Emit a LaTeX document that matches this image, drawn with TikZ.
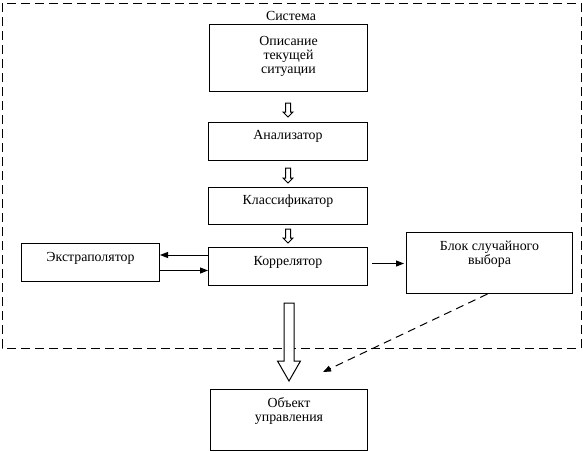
\documentclass[tikz,border=0pt]{standalone}
\usepackage{fontspec}
\setmainfont{Liberation Serif}
\usetikzlibrary{calc,arrows.meta}
\newcommand\pxu{0.75pt}
\newcommand\blockarr[7]{% from, to, gap top, gap bottom, shaft half, head half, head length (px)
  \draw[hollowarrow] let \p1=(#1.south), \p2=(#2.north) in
    (\x2-#5*\pxu,\y1-#3*\pxu) -- (\x2-#5*\pxu,\y2+#4*\pxu+#7*\pxu)
    -- (\x2-#6*\pxu,\y2+#4*\pxu+#7*\pxu) -- (\x2,\y2+#4*\pxu)
    -- (\x2+#6*\pxu,\y2+#4*\pxu+#7*\pxu) -- (\x2+#5*\pxu,\y2+#4*\pxu+#7*\pxu)
    -- (\x2+#5*\pxu,\y1-#3*\pxu) -- cycle;}
\begin{document}
\begin{tikzpicture}[x=0.75pt,y=-0.75pt,
  every node/.style={font=\fontsize{10.4pt}{10.5pt}\selectfont},
  blockbox/.style={draw,line width=0.75pt,anchor=north west,inner sep=0pt},
  lbl/.style={anchor=base,align=center,inner sep=0pt},
  mlbl/.style={anchor=north,align=center,inner sep=0pt},
  hollowarrow/.style={draw,line width=0.75pt,fill=white,line join=miter},
  arr/.style={line width=0.75pt,-{Triangle[length=6pt,width=4.5pt]}},
  sysline/.style={line width=0.75pt,dash pattern=on 6.75pt off 3.75pt}]
\useasboundingbox (0,0) rectangle (583,451);
% system boundary
\draw[sysline] (2,3) rectangle (581,348);
\node[inner sep=0pt] (sys) at (291,16) {Система};
% boxes
\node[blockbox,minimum width=158*\pxu,minimum height=67*\pxu] (desc) at (209,24) {};
\node[blockbox,minimum width=159*\pxu,minimum height=38*\pxu] (ana) at (208,122) {};
\node[blockbox,minimum width=159*\pxu,minimum height=37*\pxu] (cls) at (208,187) {};
\node[blockbox,minimum width=159*\pxu,minimum height=38*\pxu] (cor) at (208,247) {};
\node[blockbox,minimum width=138*\pxu,minimum height=38*\pxu] (ext) at (21,243) {};
\node[blockbox,minimum width=166*\pxu,minimum height=61*\pxu] (blk) at (406,232) {};
\node[blockbox,minimum width=157*\pxu,minimum height=61*\pxu] (obj) at (210,389) {};
% labels
\node[mlbl] (descT) at ($(desc.north)+(0,12.5)$) {Описание\\текущей\\ситуации};
\node[lbl] (anaT) at ($(ana.north)+(0,17)$) {Анализатор};
\node[lbl] (clsT) at ($(cls.north)+(0,17)$) {Классификатор};
\node[lbl] (corT) at ($(cor.north)+(0,18)$) {Коррелятор};
\node[lbl] (extT) at ($(ext.north)+(0,18)$) {Экстраполятор};
\node[mlbl] (blkT) at ($(blk.north)+(0,8.5)$) {Блок случайного\\выбора};
\node[mlbl] (objT) at ($(obj.north)+(0,8.5)$) {Объект\\управления};
% hollow arrows
\blockarr{desc}{ana}{11}{5}{2.5}{5}{5}
\blockarr{ana}{cls}{7}{4}{2.5}{5}{5}
\blockarr{cls}{cor}{4}{4}{2.5}{5}{5}
\blockarr{cor}{obj}{17}{8}{5}{11.5}{20}
% line arrows
\coordinate (c1) at ($(cor.north west)+(0,8)$);
\draw[arr] (c1) -- (c1 -| ext.east);
\coordinate (c2) at ($(ext.east)+(0,8)$);
\draw[arr] (c2) -- (c2 -| cor.west);
\coordinate (c3) at ($(blk.west)+(-2,0.5)$);
\coordinate (c4) at ($(c3 -| cor.east)+(4,0)$);
\draw[arr] (c4) -- (c3);
\coordinate (dEnd) at (323,372);
\draw[arr,dash pattern=on 6pt off 4pt] ($(blk.south)+(-2,0)$) -- (dEnd);
\end{tikzpicture}
\end{document}
